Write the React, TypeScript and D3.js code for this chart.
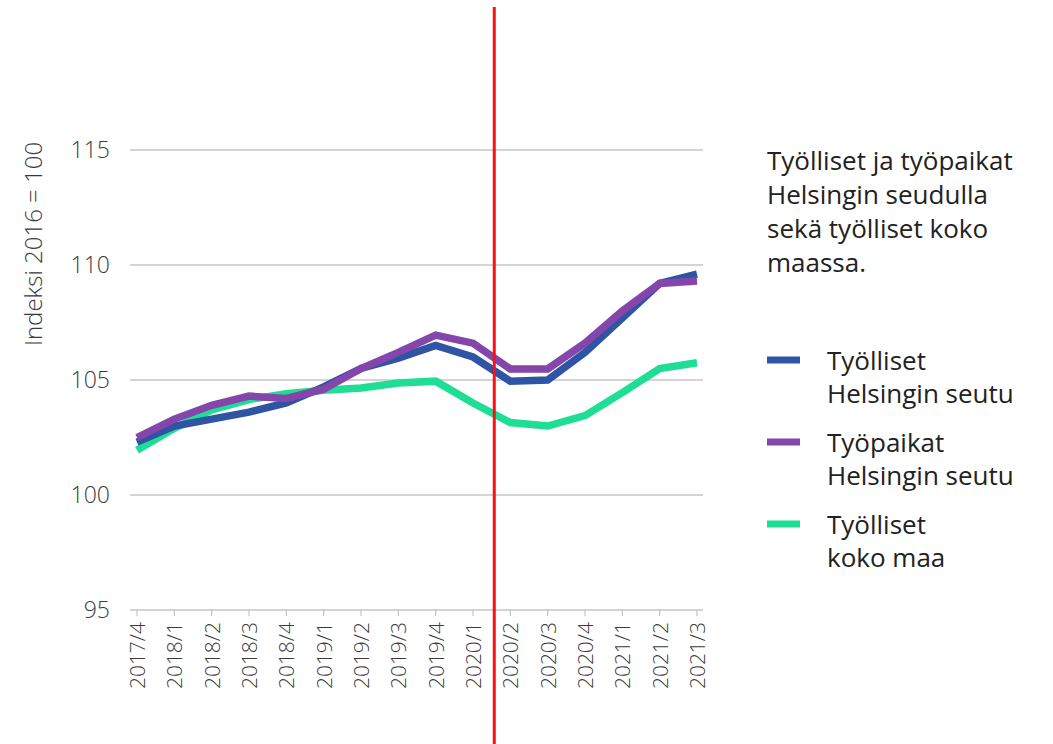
import React from "react";
import * as d3 from "d3";

const categories = ["2017/4","2018/1","2018/2","2018/3","2018/4","2019/1","2019/2","2019/3","2019/4","2020/1","2020/2","2020/3","2020/4","2021/1","2021/2","2021/3"];
const tyollisetHelsinki = [102.3,103.0,103.3,103.6,104.0,104.7,105.5,105.95,106.5,106.0,104.95,105.0,106.2,107.7,109.2,109.6];
const tyopaikatHelsinki = [102.5,103.3,103.9,104.3,104.2,104.6,105.5,106.2,106.95,106.6,105.48,105.48,106.6,108.0,109.2,109.3];
const tyollisetKokoMaa = [101.95,102.9,103.7,104.15,104.4,104.55,104.65,104.87,104.95,104.0,103.15,103.0,103.45,104.45,105.5,105.75];
const yTicks = [95,100,105,110,115];
const markerIndex = 9.57; // red vertical line between 2020/1 and 2020/2

const series = [
  { name: ["Työlliset", "Helsingin seutu"], values: tyollisetHelsinki, color: "#2f54a3" },
  { name: ["Työpaikat", "Helsingin seutu"], values: tyopaikatHelsinki, color: "#8446ab" },
  { name: ["Työlliset", "koko maa"], values: tyollisetKokoMaa, color: "#1ede96" },
];
const drawOrder = [2, 0, 1];

const titleLines = ["Työlliset ja työpaikat", "Helsingin seudulla", "sekä työlliset koko", "maassa."];

export default function App() {
  const W = 1053, H = 744;
  const x = d3.scalePoint<string>().domain(categories).range([137, 697]);
  const step = x.step();
  const y = d3.scaleLinear().domain([95, 115]).range([610, 150]);
  const line = d3.line<number>().x((_, i) => x(categories[i])!).y((v) => y(v));
  const font = "'Open Sans', 'DejaVu Sans', sans-serif";
  const markerX = x(categories[0])! + markerIndex * step;

  return (
    <svg width={W} height={H} style={{ position: "absolute", left: 0, top: 0, background: "#fff" }} fontFamily={font}>
      {yTicks.map((t) => (
        <g key={t}>
          <line x1={130} x2={703} y1={y(t)} y2={y(t)} stroke="#c6c6c6" strokeWidth={1.3} />
          <text x={110} y={y(t)} dy="0.36em" textAnchor="end" fontSize={23} fill="#3a3a3a" fontWeight={300}>{t}</text>
        </g>
      ))}
      {categories.map((c) => (
        <g key={c}>
          <line x1={x(c)!} x2={x(c)!} y1={610} y2={616} stroke="#c6c6c6" strokeWidth={1.3} />
          <text transform={`translate(${x(c)! + 8},622) rotate(-90)`} textAnchor="end" fontSize={21} fill="#3a3a3a" fontWeight={300}>{c}</text>
        </g>
      ))}
      <text transform={`translate(42,244) rotate(-90)`} textAnchor="middle" fontSize={24} fill="#3a3a3a" fontWeight={300}>Indeksi 2016 = 100</text>
      {drawOrder.map((k) => (
        <path key={k} d={line(series[k].values)!} fill="none" stroke={series[k].color} strokeWidth={7.5} strokeLinejoin="miter" />
      ))}
      <line x1={markerX} x2={markerX} y1={7} y2={744} stroke="#ff1010" strokeWidth={3} />
      {titleLines.map((t, i) => (
        <text key={i} x={767} y={170 + i * 34} fontSize={26} fill="#222">{t}</text>
      ))}
      {series.map((s, i) => (
        <g key={i} transform={`translate(0,${360 + i * 82})`}>
          <line x1={767} x2={800} y1={0} y2={0} stroke={s.color} strokeWidth={7} />
          <text x={827} y={10} fontSize={26} fill="#222">{s.name[0]}</text>
          <text x={827} y={43} fontSize={26} fill="#222">{s.name[1]}</text>
        </g>
      ))}
    </svg>
  );
}
